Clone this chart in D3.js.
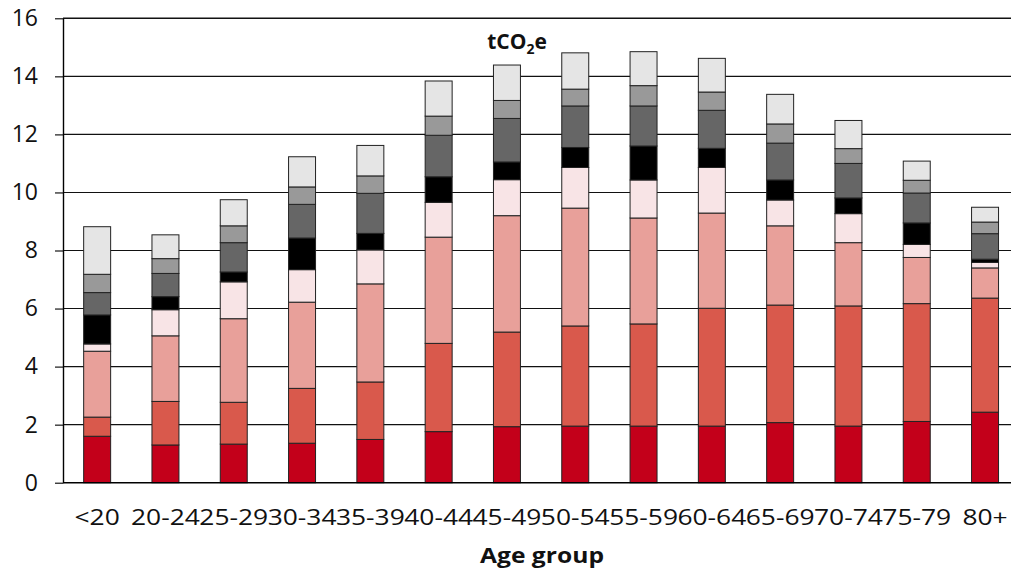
<!DOCTYPE html>
<html>
<head>
<meta charset="utf-8">
<script src="https://cdn.jsdelivr.net/npm/d3@7"></script>
<style>
html,body{margin:0;padding:0;background:#fff;}
svg{display:block;}
</style>
</head>
<body>
<svg id="chart" width="1011" height="571"></svg>
<script>
// Categories
const categories = ["<20","20-24","25-29","30-34","35-39","40-44","45-49","50-54","55-59","60-64","65-69","70-74","75-79","80+"];
// Series values (tCO2e), bottom to top
const series1 = [1.60,1.30,1.33,1.36,1.49,1.76,1.93,1.95,1.95,1.95,2.07,1.95,2.11,2.43];
const series2 = [0.66,1.50,1.44,1.89,1.98,3.04,3.26,3.45,3.52,4.06,4.05,4.14,4.06,3.93];
const series3 = [2.27,2.26,2.88,2.97,3.38,3.66,4.01,4.06,3.65,3.28,2.73,2.18,1.59,1.04];
const series4 = [0.25,0.90,1.27,1.12,1.17,1.20,1.24,1.40,1.31,1.57,0.89,1.00,0.45,0.19];
const series5 = [1.00,0.45,0.34,1.09,0.57,0.88,0.61,0.69,1.17,0.66,0.69,0.54,0.74,0.11];
const series6 = [0.77,0.80,1.01,1.16,1.38,1.43,1.50,1.43,1.38,1.31,1.27,1.19,1.03,0.88];
const series7 = [0.63,0.51,0.58,0.60,0.60,0.66,0.62,0.58,0.70,0.63,0.66,0.51,0.44,0.40];
const series8 = [1.64,0.82,0.90,1.04,1.05,1.21,1.22,1.25,1.17,1.16,1.02,0.97,0.66,0.51];
// Tick labels
const yTicks = [0,2,4,6,8,10,12,14,16];
const seriesColors = ["#C3001A","#D9594C","#E8A09A","#F8E4E6","#000000","#666666","#999999","#E5E5E5"];

const allSeries = [series1,series2,series3,series4,series5,series6,series7,series8];
const keys = allSeries.map((_,i)=>"s"+i);
const table = categories.map((c,j)=>{
  const row = {cat:c};
  allSeries.forEach((s,i)=>row["s"+i]=s[j]);
  return row;
});

const svg = d3.select("#chart");
const mLeft = 63, mRight = 1019.2, mTop = 18.3, mBottom = 482.7;

const x = d3.scaleBand().domain(categories).range([mLeft,mRight]).paddingInner(0.605).paddingOuter(0.3025);
const y = d3.scaleLinear().domain([0,16]).range([mBottom,mTop]);

// gridlines
svg.append("g").selectAll("line").data(yTicks.filter(d=>d>0)).join("line")
  .attr("x1",mLeft).attr("x2",1011)
  .attr("y1",d=>y(d)).attr("y2",d=>y(d))
  .attr("stroke","#111").attr("stroke-width",d=>d===16?1.6:1.1);

// y axis
const yAxis = d3.axisLeft(y).tickValues(yTicks).tickSize(8).tickPadding(17).tickSizeOuter(0);
const ya = svg.append("g").attr("transform",`translate(${mLeft},0)`).call(yAxis);
ya.select(".domain").attr("stroke","#000").attr("stroke-width",1.4);
ya.selectAll(".tick line").attr("stroke","#000").attr("stroke-width",1.1);
ya.selectAll(".tick text").attr("font-family","'Open Sans', sans-serif").attr("font-size",23).attr("fill","#111");

// bars
const stack = d3.stack().keys(keys)(table);
svg.append("g").selectAll("g").data(stack).join("g")
  .attr("fill",(d,i)=>seriesColors[i])
  .selectAll("rect").data(d=>d).join("rect")
  .attr("x",d=>x(d.data.cat))
  .attr("width",x.bandwidth())
  .attr("y",d=>y(d[1]))
  .attr("height",d=>y(d[0])-y(d[1]))
  .attr("stroke","#222").attr("stroke-width",1);

// x axis
const xAxis = d3.axisBottom(x).tickSize(0).tickPadding(0).tickSizeOuter(0);
const xa = svg.append("g").attr("transform",`translate(0,${mBottom})`).call(xAxis);
xa.select(".domain").attr("stroke","#000").attr("stroke-width",1.4).attr("d",`M${mLeft},0H1011`);
xa.selectAll(".tick text").attr("font-family","'Open Sans', sans-serif").attr("font-size",22)
  .attr("dy",0).attr("y",42).attr("transform","scale(1.2,1)").attr("fill","#111");

// title
const t = svg.append("text").attr("x",517).attr("y",48.5).attr("text-anchor","middle")
  .attr("font-family","'Open Sans', sans-serif").attr("font-weight","bold").attr("font-size",21).attr("fill","#111");
t.append("tspan").text("tCO");
t.append("tspan").text("2").attr("font-size",14).attr("dy",5);
t.append("tspan").text("e").attr("dy",-5);

// x axis title
svg.append("text").attr("transform","translate(542,563) scale(1.12,1)").attr("text-anchor","middle")
  .attr("font-family","'Open Sans', sans-serif").attr("font-weight","bold").attr("font-size",22).attr("fill","#111")
  .text("Age group");
</script>
</body>
</html>
